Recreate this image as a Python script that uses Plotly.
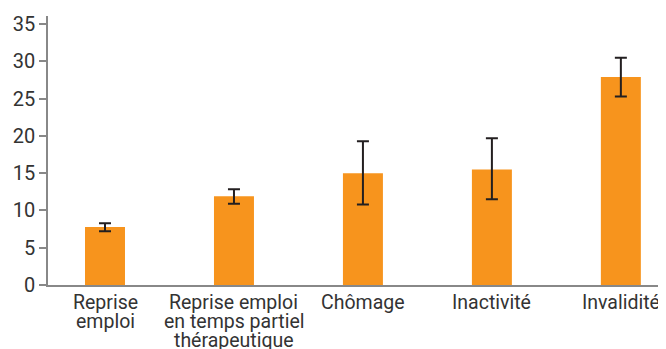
import plotly.graph_objects as go

categories = ["Reprise emploi", "Reprise emploi en temps partiel thérapeutique",
              "Chômage", "Inactivité", "Invalidité"]
label_lines = [["Reprise", "emploi"],
               ["Reprise emploi", "en temps partiel", "thérapeutique"],
               ["Chômage"], ["Inactivité"], ["Invalidité"]]
values = [7.8, 11.9, 15.0, 15.5, 27.9]
upper = [8.3, 12.85, 19.3, 19.7, 30.5]
lower = [7.2, 10.9, 10.8, 11.5, 25.3]
y_ticks = [0, 5, 10, 15, 20, 25, 30, 35]

err_plus = [u - v for u, v in zip(upper, values)]
err_minus = [v - l for v, l in zip(values, lower)]

fig = go.Figure(go.Bar(
    x=list(range(len(categories))),
    y=values,
    width=0.31,
    marker=dict(color="#F7941D", line=dict(width=0)),
    error_y=dict(type="data", symmetric=False, array=err_plus, arrayminus=err_minus,
                 color="#231F20", thickness=2, width=6),
    hovertext=categories,
))

# category labels, drawn line by line for the tight line spacing of the original
for i, lines in enumerate(label_lines):
    for k, line in enumerate(lines):
        fig.add_annotation(
            x=i, xref="x", y=0, yref="paper", yanchor="top", xanchor="center",
            yshift=-4 - 19 * k, text=line, showarrow=False,
            font=dict(family="Roboto", size=19.5, color="#333333"),
        )

fig.update_layout(
    width=666, height=349,
    margin=dict(l=40, r=8, t=8, b=72),
    plot_bgcolor="white", paper_bgcolor="white",
    font=dict(family="Roboto", size=20, color="#333333"),
    showlegend=False,
)
fig.update_xaxes(
    tickmode="array", tickvals=list(range(len(categories))), showticklabels=False,
    range=[-0.442, 4.35], showgrid=False, zeroline=False, automargin=False,
    showline=True, linecolor="#888888", linewidth=1.5, ticks="",
)
fig.update_yaxes(
    range=[0, 36.1], tickvals=y_ticks, automargin=False,
    showgrid=False, zeroline=False, showline=True, linecolor="#888888", linewidth=1.5,
    ticks="outside", ticklen=7, tickcolor="#888888", tickwidth=1.5,
)

fig.write_html("out.html")
